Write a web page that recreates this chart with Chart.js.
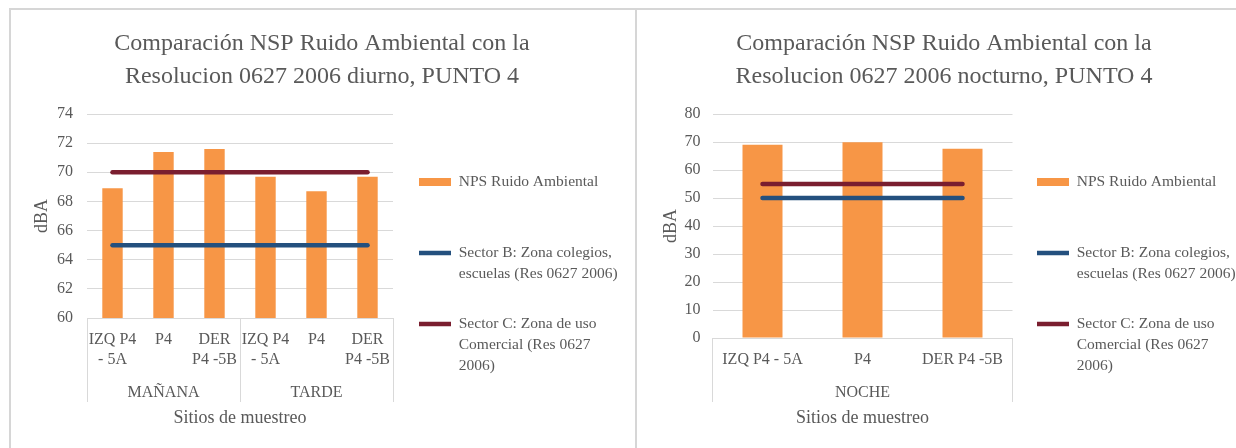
<!DOCTYPE html>
<html lang="es">
<head>
<meta charset="utf-8">
<title>Comparación NSP Ruido Ambiental - PUNTO 4</title>
<script src="https://cdn.jsdelivr.net/npm/chart.js@4.4.1/dist/chart.umd.min.js"></script>
<style>
  html, body { margin: 0; padding: 0; background: #ffffff; overflow: hidden; }
  body { width: 1236px; height: 448px; position: relative; }
  .panel { position: absolute; top: 8px; height: 460px; box-sizing: border-box;
           border-top: 2px solid #d6d6d6; border-left: 2px solid #d6d6d6; }
  #panelDia { left: 9px; width: 626px; }
  #panelNoche { left: 635px; width: 620px; }
  canvas { position: absolute; top: 10px; }
  #graficoDia { left: 11px; }
  #graficoNoche { left: 637px; }
</style>
</head>
<body>
<div class="panel" id="panelDia"></div>
<div class="panel" id="panelNoche"></div>
<canvas id="graficoDia" width="622" height="438"></canvas>
<canvas id="graficoNoche" width="614" height="438"></canvas>
<script>
// ---- Datos: jornada diurna (mañana y tarde) ----
const categoriasDia = [['IZQ P4', '- 5A'], 'P4', ['DER', 'P4 -5B'], ['IZQ P4', '- 5A'], 'P4', ['DER', 'P4 -5B']];
const jornadasDia = ['MAÑANA', 'TARDE'];
const npsDia = [68.9, 71.4, 71.6, 69.7, 68.7, 69.7];
const sectorBDia = [65, 65, 65, 65, 65, 65];
const sectorCDia = [70, 70, 70, 70, 70, 70];
const ticksDia = [60, 62, 64, 66, 68, 70, 72, 74];

// ---- Datos: jornada nocturna ----
const categoriasNoche = ['IZQ P4 - 5A', 'P4', 'DER P4 -5B'];
const jornadasNoche = ['NOCHE'];
const npsNoche = [69.0, 69.9, 67.6];
const sectorBNoche = [50, 50, 50];
const sectorCNoche = [55, 55, 55];
const ticksNoche = [0, 10, 20, 30, 40, 50, 60, 70, 80];

// ---- Series y leyenda ----
const nombresSeries = [
  'NPS Ruido Ambiental',
  'Sector B: Zona colegios, escuelas (Res 0627 2006)',
  'Sector C: Zona de uso Comercial (Res 0627 2006)'
];
const leyenda = [
  ['NPS Ruido Ambiental'],
  ['Sector B: Zona colegios,', 'escuelas (Res 0627 2006)'],
  ['Sector C: Zona de uso', 'Comercial (Res 0627', '2006)']
];
const tituloDia = ['Comparación NSP Ruido Ambiental con la', 'Resolucion 0627 2006 diurno, PUNTO 4'];
const tituloNoche = ['Comparación NSP Ruido Ambiental con la', 'Resolucion 0627 2006 nocturno, PUNTO 4'];
const tituloEjeX = 'Sitios de muestreo';
const tituloEjeY = 'dBA';

// ---- Estilo ----
const TEXTO = '#595959';
const REJILLA = '#d9d9d9';
const NARANJA = '#f79646';
const AZUL = '#24507e';
const VINOTINTO = '#7a1e2f';
const SERIF = "'Liberation Serif', 'Times New Roman', serif";
// blank filler line: keeps every legend entry the same height and reserves
// enough width so the legend box is always as wide as its maxWidth
const LINEA_VACIA = ' '.repeat(60);

Chart.defaults.font.family = SERIF;
Chart.defaults.font.size = 16;
Chart.defaults.color = TEXTO;

function etiquetasLeyenda(chart) {
  const lineas = Math.max(...leyenda.map(t => t.length));
  return chart.data.datasets.map((ds, i) => {
    const texto = leyenda[i].concat(Array(lineas - leyenda[i].length).fill(LINEA_VACIA));
    const esBarra = ds.type === 'bar';
    return {
      text: texto,
      datasetIndex: i,
      hidden: !chart.isDatasetVisible(i),
      fontColor: TEXTO,
      fillStyle: esBarra ? ds.backgroundColor : 'rgba(0,0,0,0)',
      strokeStyle: esBarra ? ds.backgroundColor : ds.borderColor,
      lineWidth: esBarra ? 0 : 4.5,
      lineCap: 'butt',
      pointStyle: esBarra ? 'rect' : 'line'
    };
  });
}

function crearGrafico(id, p) {
  const porGrupo = p.categorias.length / p.jornadas.length;
  const yMin = p.ticks[0];
  const yMax = p.ticks[p.ticks.length - 1];
  const paso = p.ticks[1] - p.ticks[0];

  return new Chart(document.getElementById(id), {
    type: 'bar',
    data: {
      labels: p.categorias,
      datasets: [
        { type: 'bar', label: nombresSeries[0], data: p.nps, backgroundColor: NARANJA,
          barPercentage: 1, categoryPercentage: 0.4, order: 1, xAxisID: 'x', yAxisID: 'y' },
        { type: 'line', label: nombresSeries[1], data: p.sectorB, borderColor: AZUL, backgroundColor: AZUL,
          borderWidth: 4.5, pointRadius: 0, borderCapStyle: 'round', fill: false, order: 0,
          xAxisID: 'x', yAxisID: 'y' },
        { type: 'line', label: nombresSeries[2], data: p.sectorC, borderColor: VINOTINTO, backgroundColor: VINOTINTO,
          borderWidth: 4.5, pointRadius: 0, borderCapStyle: 'round', fill: false, order: 0,
          xAxisID: 'x', yAxisID: 'y' }
      ]
    },
    options: {
      responsive: false,
      animation: false,
      devicePixelRatio: 1,
      layout: { padding: { top: 0, right: 8, bottom: 0, left: 8 } },
      plugins: {
        title: {
          display: true, text: p.titulo, color: TEXTO,
          font: { family: SERIF, size: 24, lineHeight: 1.375, weight: 'normal' },
          padding: { top: 17.5, bottom: 20.5 }
        },
        legend: {
          position: 'right', align: 'center', maxWidth: 214.2,
          title: { display: true, text: '', font: { size: 12, lineHeight: 1.2 }, padding: { top: 80.9, bottom: 0 } },
          labels: {
            usePointStyle: true, pointStyleWidth: 32, boxHeight: 8, padding: 8.2,
            color: TEXTO, font: { family: SERIF, size: 15.5, lineHeight: 1.35 },
            generateLabels: etiquetasLeyenda
          }
        },
        tooltip: { enabled: false }
      },
      scales: {
        x: {
          type: 'category', position: 'bottom', offset: true, weight: 0,
          grid: {
            display: true, drawOnChartArea: false, offset: true, drawTicks: true,
            tickLength: p.largoMarca, lineWidth: 1,
            color: c => (c.type !== 'tick' || c.index % porGrupo === 0) ? REJILLA : 'rgba(0,0,0,0)'
          },
          border: { display: true, color: REJILLA },
          ticks: { padding: p.rellenoEtiquetas, autoSkip: false, maxRotation: 0, minRotation: 0,
                   color: TEXTO, font: { size: 16, lineHeight: 1.25 } },
          afterFit: s => { s.height = p.altoEtiquetas; }
        },
        x2: {
          type: 'category', position: 'bottom', labels: p.jornadas, offset: true, weight: 1,
          grid: { display: false, drawTicks: false },
          border: { display: false },
          ticks: { padding: 11, color: TEXTO, font: { size: 16, lineHeight: 1.25 } },
          title: { display: true, text: tituloEjeX, color: TEXTO,
                   font: { size: 18, lineHeight: 1.2 }, padding: { top: 0, bottom: 19.2 } },
          afterFit: s => { s.height = 76; }
        },
        y: {
          type: 'linear', position: 'left', min: yMin, max: yMax,
          afterBuildTicks: s => { s.ticks = p.ticks.map(v => ({ value: v })); },
          ticks: { stepSize: paso, padding: p.rellenoTicksY, color: TEXTO, font: { size: 16 } },
          grid: { color: REJILLA, lineWidth: 1, drawTicks: false },
          border: { display: false },
          title: { display: true, text: tituloEjeY, color: TEXTO,
                   font: { size: 18, lineHeight: 1.2 }, padding: { top: p.rellenoTituloY, bottom: 0 } },
          afterFit: s => { s.width = p.anchoEjeY; }
        },
        hueco: {
          type: 'linear', position: 'right', display: true,
          grid: { display: false, drawTicks: false },
          ticks: { display: false },
          border: { display: false },
          afterFit: s => { s.width = p.separacion; }
        }
      }
    }
  });
}

crearGrafico('graficoDia', {
  titulo: tituloDia, categorias: categoriasDia, jornadas: jornadasDia,
  nps: npsDia, sectorB: sectorBDia, sectorC: sectorCDia, ticks: ticksDia,
  anchoEjeY: 68, altoEtiquetas: 54, largoMarca: 84, rellenoEtiquetas: -72,
  separacion: 17.8, rellenoTituloY: 12.2, rellenoTicksY: 14
});

crearGrafico('graficoNoche', {
  titulo: tituloNoche, categorias: categoriasNoche, jornadas: jornadasNoche,
  nps: npsNoche, sectorB: sectorBNoche, sectorC: sectorCNoche, ticks: ticksNoche,
  anchoEjeY: 67.5, altoEtiquetas: 34, largoMarca: 64, rellenoEtiquetas: -52,
  separacion: 16.3, rellenoTituloY: 15.2, rellenoTicksY: 12
});
</script>
</body>
</html>
